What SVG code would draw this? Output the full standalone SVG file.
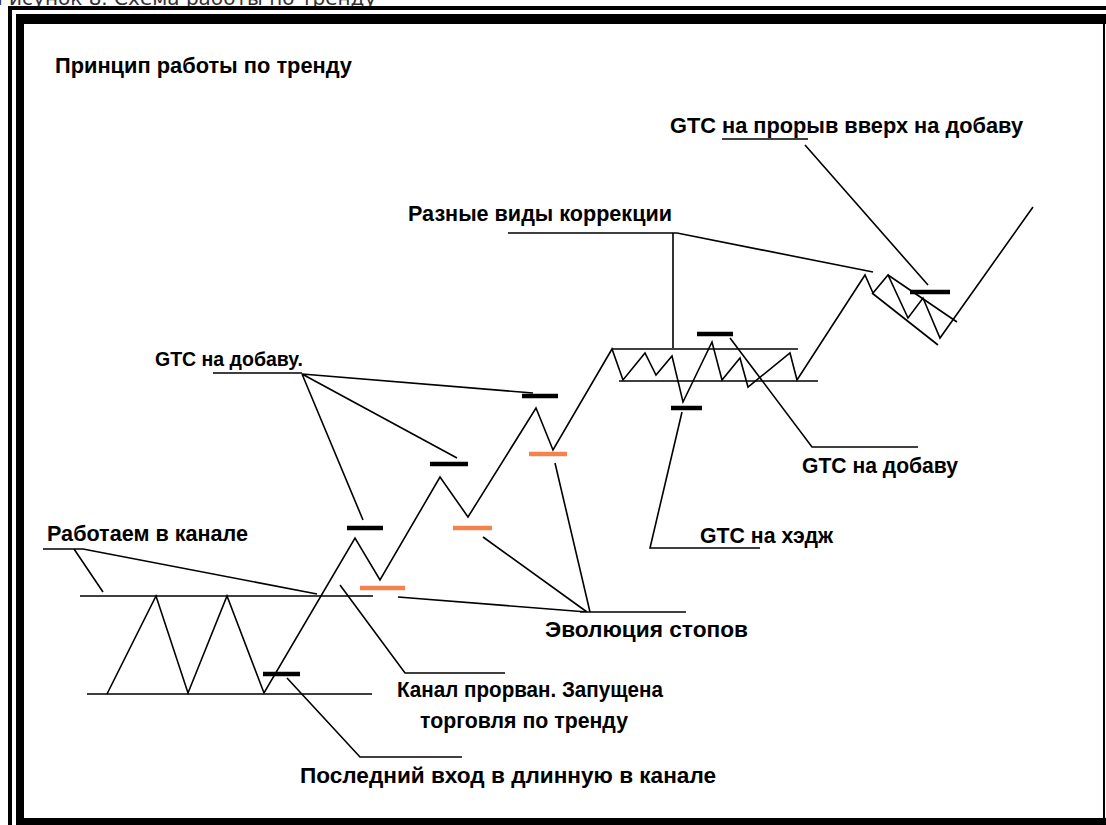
<svg xmlns="http://www.w3.org/2000/svg" width="1106" height="825" viewBox="0 0 1106 825">
<style>
.t{font-family:"Liberation Sans",Arial,sans-serif;font-weight:bold;font-size:21.5px;fill:#000}
.cap{font-family:"DejaVu Sans",Verdana,sans-serif;font-size:20px;fill:#333}
.ln{stroke:#000;stroke-width:1.6;fill:none;stroke-linejoin:miter}
.bar{stroke:#000;stroke-width:4.5;fill:none}
.obar{stroke:#f4824a;stroke-width:4.5;fill:none}
</style>
<rect x="0" y="0" width="1106" height="825" fill="#fff"/>
<text class="cap" x="-3" y="5">Рисунок 8. Схема работы по тренду</text>
<g id="frame" fill="#000">
<rect x="8" y="6" width="1098" height="4"/>
<rect x="8" y="6" width="4" height="819"/>
<rect x="16" y="14" width="1090" height="10"/>
<rect x="16" y="14" width="8" height="811"/>
<rect x="16" y="818" width="1090" height="7"/>
<rect x="1103" y="24" width="2" height="794"/>
</g>
<g id="title"><text class="t" x="55" y="73" textLength="297" lengthAdjust="spacingAndGlyphs">Принцип работы по тренду</text></g>
<g id="chart">
<path class="ln" d="M80,596 H373 M87,694 H372"/>
<path class="ln" d="M107,694 L156,596 L188,693 L227,596 L264,693 L355,538 L380,580 L440,477 L468,517 L536,408 L553,450 L612,349 L623,380 L645,353 L656,375 L672,356 L683,402 L712,342 L722,380 L740,358 L748,387 L790,353 L797,380 L865,275 L873,293 L888,275 L908,318 L923,298 L940,338 L1033,207"/>
<path class="ln" d="M612,349 H798 M619,381 H818"/>
<path class="ln" d="M888,275 L957,322 M872,293 L938,345"/>
</g>
<g id="bars">
<path class="bar" d="M263,674 H300 M347,528 H383 M430,464 H468 M522,396 H558 M697,334 H733 M671,408 H702 M910,292 H950"/>
<path class="obar" d="M360,588 H405 M453,528 H492 M529,454 H567"/>
</g>
<g id="connectors">
<path class="ln" d="M43,549 H83 M74,549 L103,592 M83,549 L317,594"/>
<path class="ln" d="M340,585 L405,673 H505"/>
<path class="ln" d="M287,678 L360,757 H462"/>
<path class="ln" d="M213,373 H302 M302,374 L363,520 M302,374 L457,458 M302,374 L533,393"/>
<path class="ln" d="M398,597 L587,612 M483,537 L587,612 M555,463 L590,612 M580,612 H686"/>
<path class="ln" d="M508,233 H677 M673,233 V348 M677,233 L873,272"/>
<path class="ln" d="M722,139 H808 M805,145 L928,285"/>
<path class="ln" d="M730,338 L812,447 H918"/>
<path class="ln" d="M682,412 L650,548 H760"/>
</g>
<g id="labels">
<text class="t" x="670" y="133" textLength="353" lengthAdjust="spacingAndGlyphs">GTC на прорыв вверх на добаву</text>
<text class="t" x="408" y="221" textLength="264" lengthAdjust="spacingAndGlyphs">Разные виды коррекции</text>
<text class="t" x="155" y="366" style="font-size:19.5px">GTC на добаву.</text>
<text class="t" x="47" y="541" textLength="201" lengthAdjust="spacingAndGlyphs">Работаем в канале</text>
<text class="t" x="545" y="637" textLength="203" lengthAdjust="spacingAndGlyphs">Эволюция стопов</text>
<text class="t" x="700" y="543" textLength="133" lengthAdjust="spacingAndGlyphs">GTC на хэдж</text>
<text class="t" x="802" y="473" textLength="156" lengthAdjust="spacingAndGlyphs">GTC на добаву</text>
<text class="t" x="397" y="697" textLength="266" lengthAdjust="spacingAndGlyphs">Канал прорван. Запущена</text>
<text class="t" x="420" y="728" textLength="208" lengthAdjust="spacingAndGlyphs">торговля по тренду</text>
<text class="t" x="300" y="783" textLength="416" lengthAdjust="spacingAndGlyphs">Последний вход в длинную в канале</text>
</g>
</svg>
